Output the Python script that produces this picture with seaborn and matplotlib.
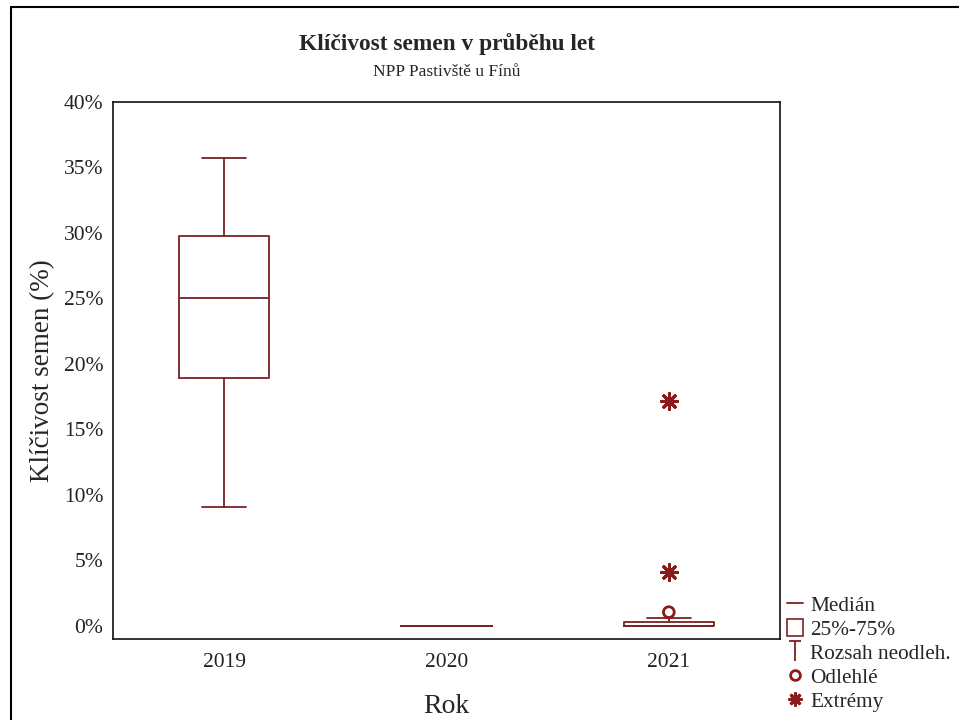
import matplotlib
matplotlib.use("Agg")
import matplotlib.pyplot as plt
import seaborn as sns
import pandas as pd
from matplotlib.lines import Line2D
from matplotlib.patches import Rectangle
from matplotlib.path import Path
from matplotlib.ticker import PercentFormatter

# box statistics per year (germination in %)
years = ["2019", "2020", "2021"]
q1 = [18.9, 0.0, 0.0]
median = [25.05, 0.0, 0.0]
q3 = [29.75, 0.0, 0.3]
whisk_lo = [9.05, 0.0, 0.0]
whisk_hi = [35.75, 0.0, 0.6]

# outliers and extremes
outlier_year = ["2021"]
outlier_val = [1.05]
extreme_year = ["2021", "2021"]
extreme_val = [17.15, 4.1]

RED = "#7b2222"
DOT = "#8b1a1a"

sns.set_style("white")
plt.rcParams["font.family"] = ["Liberation Serif", "DejaVu Serif"]

fig = plt.figure(figsize=(9.59, 7.2), dpi=100)
ax = fig.add_axes([113 / 959, 1 - 639 / 720, (780 - 113) / 959, (639 - 102) / 720])

stats = []
for i, y in enumerate(years):
    stats.append(dict(label=y, q1=q1[i], med=median[i], q3=q3[i],
                      whislo=whisk_lo[i], whishi=whisk_hi[i], fliers=[]))

line_kw = dict(color=RED, linewidth=1.3)
ax.bxp(stats, positions=range(len(years)), widths=0.405, capwidths=0.2,
       showfliers=False, patch_artist=False,
       boxprops=line_kw, medianprops=line_kw, whiskerprops=line_kw, capprops=line_kw)

pos = {y: i for i, y in enumerate(years)}
out_df = pd.DataFrame({"x": [pos[y] for y in outlier_year], "v": outlier_val})
ext_df = pd.DataFrame({"x": [pos[y] for y in extreme_year], "v": extreme_val})
sns.scatterplot(data=out_df, x="x", y="v", ax=ax, marker="o", s=60,
                facecolor="none", edgecolor=DOT, linewidth=2, zorder=5)
sns.scatterplot(data=ext_df, x="x", y="v", ax=ax, marker=(8, 2, 0), s=130,
                color=DOT, edgecolor=DOT, linewidth=2.2, zorder=5)

ax.set_xlim(-0.5, 2.5)
ax.set_ylim(-1, 40)
ax.set_xticks(range(len(years)))
ax.set_xticklabels(years)
ax.set_yticks(range(0, 41, 5))
ax.yaxis.set_major_formatter(PercentFormatter(decimals=0))
ax.tick_params(direction="in", length=4, width=1, labelsize=15.5, colors="#222222",
               pad=7)
ax.tick_params(axis="x", pad=10)
for s in ax.spines.values():
    s.set_color("#111111")
    s.set_linewidth(1.2)

ax.set_xlabel("Rok", fontsize=20, labelpad=16)
ax.set_ylabel("Klíčivost semen (%)", fontsize=19.5, labelpad=6)

fig.text(447 / 959, 1 - 44 / 720, "Klíčivost semen v průběhu let", ha="center",
         va="center", fontsize=16.8, fontweight="bold")
fig.text(447 / 959, 1 - 72 / 720, "NPP Pastivště u Fínů", ha="center",
         va="center", fontsize=12.5)

# whisker legend glyph: cap with stem
whisk_path = Path([(-0.6, 1), (0.6, 1), (0, 1), (0, -1)],
                  [Path.MOVETO, Path.LINETO, Path.MOVETO, Path.LINETO])
handles = [
    Line2D([], [], color=RED, linewidth=1.3),
    Rectangle((0, 0), 1, 1, facecolor="white", edgecolor=RED, linewidth=1.2),
    Line2D([], [], linestyle="none", marker=whisk_path, markersize=14,
           markeredgecolor=RED, markerfacecolor="none", markeredgewidth=1.3),
    Line2D([], [], linestyle="none", marker="o", markersize=7,
           markerfacecolor="none", markeredgecolor=DOT, markeredgewidth=2),
    Line2D([], [], linestyle="none", marker=(8, 2, 0), markersize=10,
           markeredgecolor=DOT, markeredgewidth=2),
]
labels = ["Medián", "25%-75%", "Rozsah neodleh.", "Odlehlé", "Extrémy"]
fig.legend(handles, labels, loc="upper left", bbox_to_anchor=(787 / 959, 1 - 595 / 720),
           frameon=False, fontsize=15.3, handlelength=0.75, handleheight=0.85,
           handletextpad=0.35, labelspacing=0.15, borderpad=0, borderaxespad=0)

# outer frame (left and top edges)
fig.add_artist(Line2D([11 / 959, 11 / 959], [0, 1 - 7 / 720], color="black",
                      linewidth=1.5, transform=fig.transFigure))
fig.add_artist(Line2D([11 / 959, 1], [1 - 7 / 720, 1 - 7 / 720], color="black",
                      linewidth=1.5, transform=fig.transFigure))

fig.savefig("out.png", dpi=100)
